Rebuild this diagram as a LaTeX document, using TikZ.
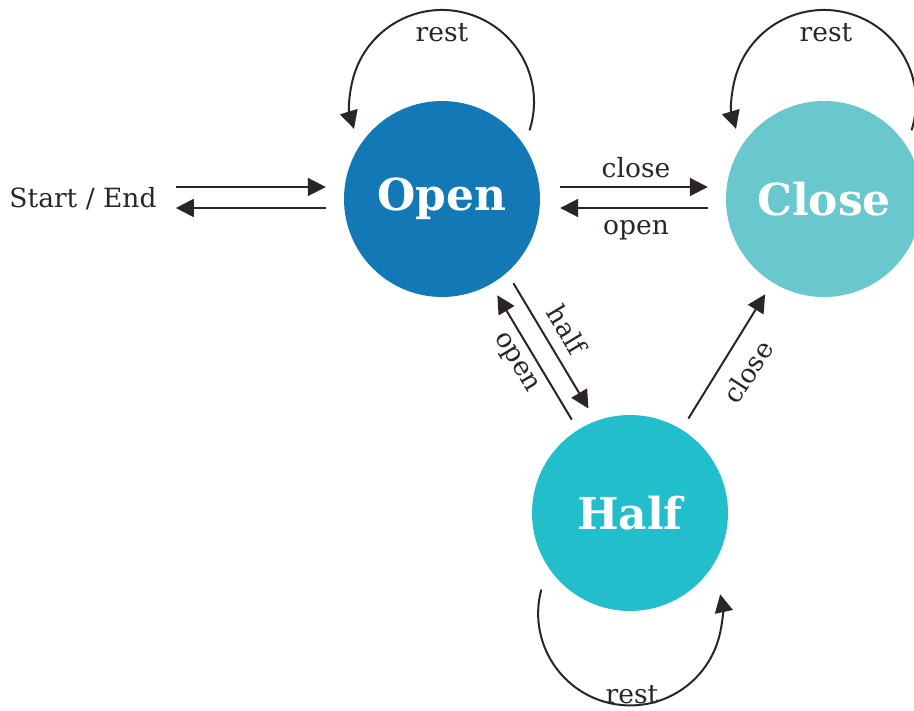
\documentclass[tikz,border=0pt]{standalone}
\usepackage{fontspec}
\setmainfont{DejaVu Serif}
\usetikzlibrary{arrows.meta,calc}
\definecolor{openc}{HTML}{1278B6}
\definecolor{closec}{HTML}{68C8CE}
\definecolor{halfc}{HTML}{22BECC}
\definecolor{ink}{HTML}{2B2527}
\begin{document}
\begin{tikzpicture}[x=1pt,y=-1pt,
  state/.style={circle,minimum size=196pt,inner sep=0pt,text=white,font=\fontsize{44}{50}\selectfont\bfseries},
  lbl/.style={font=\fontsize{26.5}{30}\selectfont,text=ink,inner sep=0pt},
  arr/.style={draw=ink,line width=2pt,-{Triangle[length=18pt,width=18pt]}}]
\useasboundingbox (0,0) rectangle (914,711);
\clip (0,0) rectangle (914,711);
\node[state,fill=openc] (open) at (442,199) {Open};
\node[state,fill=closec] (close) at (824,199) {Close};
\node[state,fill=halfc] (half) at (630,513) {Half};
\node[lbl,anchor=base] (start) at (83,208) {Start / End};
% start <-> open
\draw[arr] ($(open.west)+(-168,-12)$) -- ($(open.west)+(-18,-12)$);
\draw[arr] ($(open.west)+(-18,9)$) -- ($(open.west)+(-168,9)$);
% open <-> close
\draw[arr] ($(open.east)+(20,-12)$) -- ($(close.west)+(-18,-12)$);
\draw[arr] ($(close.west)+(-18,9)$) -- ($(open.east)+(20,9)$);
\node[lbl,anchor=base] (lclose) at ($(open.east)!0.5!(close.west)+(3,-21)$) {close};
\node[lbl,anchor=base] (lopen) at ($(open.east)!0.5!(close.west)+(3,36)$) {open};
% open <-> half
\draw[arr] ($(open)!109pt!(half)!18pt!90:(half)$) -- ($(half)!111pt!(open)!18pt!-90:(open)$);
\draw[arr] ($(half)!110pt!(open)!2pt!90:(open)$) -- ($(open)!111pt!(half)!2pt!-90:(half)$);
\node[lbl,rotate=-59] (lhalf) at ($(open)!0.482!(half)!40pt!90:(half)$) {half};
\node[lbl,rotate=-59] (lopen2) at ($(open)!0.487!(half)!22pt!-90:(half)$) {open};
% half -> close
\draw[arr] ($(half)!111pt!(close)$) -- ($(close)!112pt!(half)$);
\node[lbl,rotate=57] (lclose2) at ($(half)!0.493!(close)!26pt!-90:(close)$) {close};
% loops
\draw[arr] ($(open)+(87.5,-68.6)$) arc[start angle=-18, end angle=197, radius=92pt];
\node[lbl,anchor=base] (rest1) at ($(open)+(0,-157)$) {rest};
\draw[arr] ($(close)+(87.5,-68.6)$) arc[start angle=-18, end angle=197, radius=92pt];
\node[lbl,anchor=base] (rest2) at ($(close)+(2,-157)$) {rest};
\draw[arr] ($(half)+(-88.7,76.6)$) arc[start angle=165, end angle=372, radius=92pt];
\node[lbl,anchor=base] (rest3) at ($(half)+(2,190)$) {rest};
\end{tikzpicture}
\end{document}
